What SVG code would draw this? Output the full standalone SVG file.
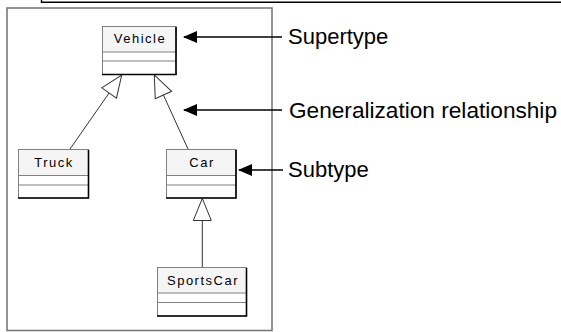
<svg xmlns="http://www.w3.org/2000/svg" width="561" height="332" viewBox="0 0 561 332">
<style>
.frame{fill:none;stroke:#7a7a7a;stroke-width:1.6}
.top{fill:none;stroke:#000;stroke-width:1.4}
.cls{fill:#fff;stroke:#808080;stroke-width:1}
.name{fill:#f5f5f5;stroke:#808080;stroke-width:1}
.sep{stroke:#808080;stroke-width:1}
.shadow{fill:none;stroke:#000;stroke-width:1.6}
.ct{font-family:"Liberation Sans",Arial,sans-serif;font-size:13px;letter-spacing:1.5px;text-anchor:middle;fill:#000}
.lbl{font-family:"Liberation Sans",Arial,sans-serif;font-size:22px;fill:#000}
.gen{fill:none;stroke:#333;stroke-width:1}
.call{fill:none;stroke:#000;stroke-width:1.5}
</style>
<defs>
<marker id="tri" markerUnits="userSpaceOnUse" markerWidth="24" markerHeight="20" refX="22" refY="10" orient="auto" overflow="visible">
<path d="M0,1 L22,10 L0,19 Z" fill="#fff" stroke="#333" stroke-width="1"/>
</marker>
<marker id="arr" markerUnits="userSpaceOnUse" markerWidth="14" markerHeight="14" refX="13" refY="7" orient="auto" overflow="visible">
<path d="M0,1 L14,7 L0,13 Z" fill="#000"/>
</marker>
</defs>
<rect width="561" height="332" fill="#fff"/>
<path class="top" d="M41.5,-1 V2.3 H562"/>
<rect class="frame" x="7" y="8" width="265" height="322.5"/>
<g id="connectors">
<path class="gen" d="M70,149 L121.7,75" marker-end="url(#tri)"/>
<path class="gen" d="M188,149 L154.3,75" marker-end="url(#tri)"/>
<path class="gen" d="M202.3,267 L202.3,198.5" marker-end="url(#tri)"/>
<path class="call" d="M282,37 H184" marker-end="url(#arr)"/>
<path class="call" d="M282,110 H184" marker-end="url(#arr)"/>
<path class="call" d="M283,170 H239" marker-end="url(#arr)"/>
</g>
<g id="vehicle">
<rect class="cls" x="102.5" y="26.5" width="73.5" height="48"/>
<rect class="name" x="102.5" y="26.5" width="73.5" height="25.5"/>
<line class="sep" x1="102.5" y1="61" x2="176" y2="61"/>
<path class="shadow" d="M176,27 V74.5 H102"/>
<text class="ct" x="140" y="43">Vehicle</text>
</g>
<g id="truck">
<rect class="cls" x="18.5" y="149.5" width="70" height="48.5"/>
<rect class="name" x="18.5" y="149.5" width="70" height="26"/>
<line class="sep" x1="18.5" y1="185" x2="88.5" y2="185"/>
<path class="shadow" d="M88.5,150 V198 H18"/>
<text class="ct" x="54" y="167">Truck</text>
</g>
<g id="car">
<rect class="cls" x="166.5" y="149.5" width="69.5" height="48.5"/>
<rect class="name" x="166.5" y="149.5" width="69.5" height="26"/>
<line class="sep" x1="166.5" y1="185" x2="236" y2="185"/>
<path class="shadow" d="M236,150 V198 H166"/>
<text class="ct" x="202" y="167">Car</text>
</g>
<g id="sportscar">
<rect class="cls" x="157.5" y="267.5" width="89" height="48.5"/>
<rect class="name" x="157.5" y="267.5" width="89" height="25.5"/>
<line class="sep" x1="157.5" y1="302.5" x2="246.5" y2="302.5"/>
<path class="shadow" d="M246.5,268 V316 H157"/>
<text class="ct" x="203" y="285">SportsCar</text>
</g>
<g id="labels">
<text class="lbl" x="288" y="44">Supertype</text>
<text class="lbl" x="289" y="117.5" textLength="268" lengthAdjust="spacingAndGlyphs">Generalization relationship</text>
<text class="lbl" x="288" y="177">Subtype</text>
</g>
</svg>
